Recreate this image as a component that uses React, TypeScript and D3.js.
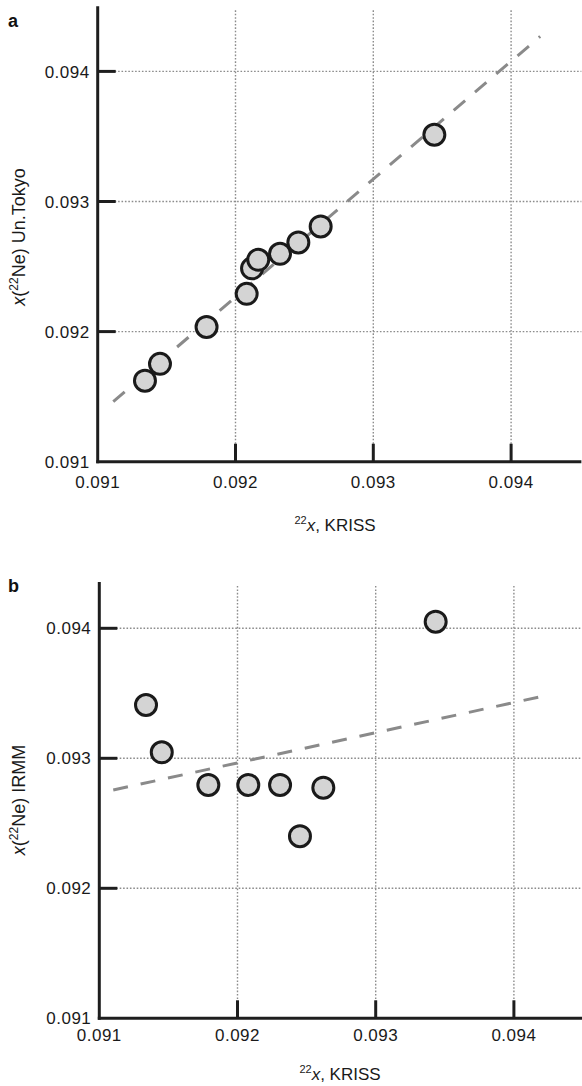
import React from "react";
import * as d3 from "d3";

// Data (mole fractions)
const krissA = [0.091343, 0.091452, 0.09179, 0.092081, 0.09212, 0.092165, 0.092323, 0.092456, 0.092618, 0.093443];
const tokyoY = [0.091623, 0.091752, 0.092036, 0.09229, 0.092486, 0.092552, 0.092598, 0.092685, 0.092808, 0.093513];
const krissB = [0.091338, 0.091452, 0.091789, 0.092078, 0.092308, 0.092452, 0.092621, 0.093434];
const irmmY = [0.09341, 0.093046, 0.092795, 0.092795, 0.092795, 0.092401, 0.092774, 0.094051];
const fitA = [
  [0.091113, 0.091462],
  [0.094211, 0.094269],
];
const fitB = [
  [0.091101, 0.092756],
  [0.094193, 0.093474],
];
const tickValues = [0.091, 0.092, 0.093, 0.094];
const tickLabels = ["0.091", "0.092", "0.093", "0.094"];

const FONT = "'Liberation Sans', Arial, Helvetica, sans-serif";
const AXIS = "#1e1e1e";
const GRID = "#8c8c8c";

type PanelProps = {
  letter: string;
  letterY: number;
  xRange: [number, number];
  xDomainMax: number;
  yRange: [number, number];
  yDomainMax: number;
  xs: number[];
  ys: number[];
  fit: number[][];
  yTitle: string;
  yTitleCenter: number;
  xTitleY: number;
  xTitleX: number;
  xLabelDy: number;
};

function Panel(p: PanelProps) {
  const x = d3.scaleLinear().domain([0.091, p.xDomainMax]).range(p.xRange);
  const y = d3.scaleLinear().domain([0.091, p.yDomainMax]).range(p.yRange);
  const x0 = x(0.091);
  const y0 = y(0.091);
  const yTop = y(p.yDomainMax);
  const xRight = x(p.xDomainMax);
  const line = d3
    .line<number[]>()
    .x((d) => x(d[0]))
    .y((d) => y(d[1]));
  return (
    <g>
      <text x={8} y={p.letterY} fontFamily={FONT} fontWeight="bold" fontSize={18} fill="#111">
        {p.letter}
      </text>
      {/* grid */}
      {tickValues.slice(1).map((v) => (
        <line
          key={"gx" + v}
          x1={x(v)}
          x2={x(v)}
          y1={yTop + 4}
          y2={y0}
          stroke={GRID}
          strokeWidth={1.4}
          strokeDasharray="1.6,1.8"
        />
      ))}
      {tickValues.slice(1).map((v) => (
        <line
          key={"gy" + v}
          x1={x0}
          x2={xRight}
          y1={y(v)}
          y2={y(v)}
          stroke={GRID}
          strokeWidth={1.4}
          strokeDasharray="1.6,1.8"
        />
      ))}
      {/* fit line */}
      <path
        d={line(p.fit) || ""}
        fill="none"
        stroke="#8a8a8a"
        strokeWidth={3}
        strokeDasharray="15,13"
      />
      {/* points */}
      {p.xs.map((v, i) => (
        <circle
          key={"pt" + i}
          cx={x(v)}
          cy={y(p.ys[i])}
          r={10.5}
          fill="#d4d4d4"
          stroke="#1a1a1a"
          strokeWidth={3}
        />
      ))}
      {/* axes */}
      <line x1={x0} x2={x0} y1={yTop} y2={y0 + 1.5} stroke={AXIS} strokeWidth={3} />
      <line x1={x0 - 1.5} x2={xRight} y1={y0} y2={y0} stroke={AXIS} strokeWidth={3} />
      {tickValues.slice(1).map((v) => (
        <line key={"ty" + v} x1={x0} x2={x0 + 18} y1={y(v)} y2={y(v)} stroke={AXIS} strokeWidth={3} />
      ))}
      {tickValues.slice(1).map((v) => (
        <line key={"tx" + v} x1={x(v)} x2={x(v)} y1={y0} y2={y0 - 18} stroke={AXIS} strokeWidth={3} />
      ))}
      {tickValues.map((v, i) => (
        <text
          key={"ly" + v}
          x={x0 - 8}
          y={y(v)}
          dy="0.36em"
          textAnchor="end"
          fontFamily={FONT}
          fontSize={17}
          letterSpacing={0.5}
          fill="#1a1a1a"
        >
          {tickLabels[i]}
        </text>
      ))}
      {tickValues.map((v, i) => (
        <text
          key={"lx" + v}
          x={x(v)}
          y={y0 + p.xLabelDy}
          textAnchor="middle"
          fontFamily={FONT}
          fontSize={17}
          letterSpacing={0.5}
          fill="#1a1a1a"
        >
          {tickLabels[i]}
        </text>
      ))}
      {/* x title */}
      <text x={p.xTitleX} y={p.xTitleY} textAnchor="middle" fontFamily={FONT} fontSize={17} fill="#1a1a1a">
        <tspan fontSize={11} dy={-7}>22</tspan>
        <tspan fontStyle="italic" dy={7}>x</tspan>
        <tspan>, KRISS</tspan>
      </text>
      {/* y title */}
      <text
        transform={`translate(25,${p.yTitleCenter}) rotate(-90)`}
        textAnchor="middle"
        fontFamily={FONT}
        fontSize={18}
        fill="#1a1a1a"
      >
        <tspan fontStyle="italic">x</tspan>
        <tspan>(</tspan>
        <tspan fontSize={12} dy={-7}>22</tspan>
        <tspan dy={7}>Ne) {p.yTitle}</tspan>
      </text>
    </g>
  );
}

export default function App() {
  return (
    <svg
      width={582}
      height={1086}
      style={{ position: "absolute", left: 0, top: 0, background: "#fff" }}
    >
      <rect x={0} y={0} width={582} height={1086} fill="#fff" />
      <Panel
        letter="a"
        letterY={27}
        xRange={[97.7, 97.7 + 3.51 * 137.8]}
        xDomainMax={0.09451}
        yRange={[461.7, 461.7 - 3.5 * 130.1]}
        yDomainMax={0.0945}
        xs={krissA}
        ys={tokyoY}
        fit={fitA}
        yTitle="Un.Tokyo"
        yTitleCenter={237}
        xTitleX={335}
        xTitleY={531}
        xLabelDy={26}
      />
      <Panel
        letter="b"
        letterY={592}
        xRange={[99.3, 99.3 + 3.5 * 138.2]}
        xDomainMax={0.0945}
        yRange={[1018.3, 1018.3 - 3.356 * 130]}
        yDomainMax={0.094356}
        xs={krissB}
        ys={irmmY}
        fit={fitB}
        yTitle="IRMM"
        yTitleCenter={800}
        xTitleX={340}
        xTitleY={1080}
        xLabelDy={23}
      />
    </svg>
  );
}
